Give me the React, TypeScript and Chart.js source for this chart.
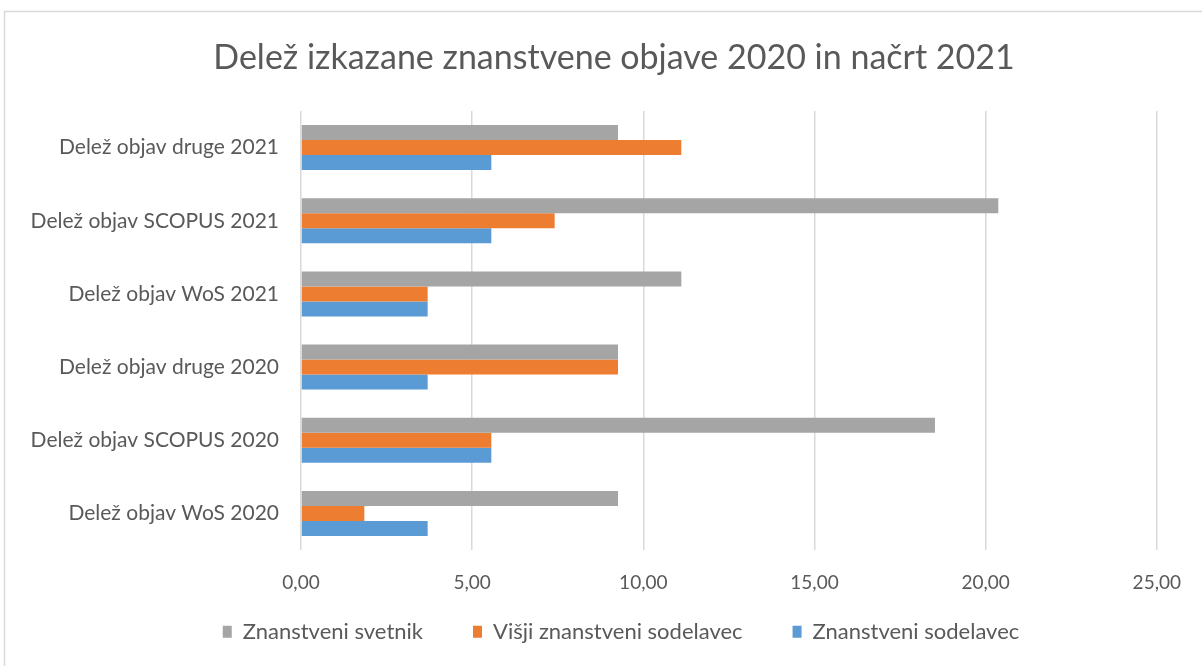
import React, { useEffect, useRef } from "react";
import { Chart, registerables } from "chart.js";

Chart.register(...registerables);

const categories = [
  "Delež objav WoS 2020",
  "Delež objav SCOPUS 2020",
  "Delež objav druge 2020",
  "Delež objav WoS 2021",
  "Delež objav SCOPUS 2021",
  "Delež objav druge 2021",
];
const svetnik = [9.26, 18.52, 9.26, 11.11, 20.37, 9.26];
const visjiSodelavec = [1.85, 5.56, 9.26, 3.7, 7.41, 11.11];
const sodelavec = [3.7, 5.56, 3.7, 3.7, 5.56, 5.56];
const seriesNames = ["Znanstveni svetnik", "Višji znanstveni sodelavec", "Znanstveni sodelavec"];
const title = "Delež izkazane znanstvene objave 2020 in načrt 2021";
const xTicks = [0, 5, 10, 15, 20, 25];

const FONT = "Lato, 'Open Sans', sans-serif";
const TEXT = "#595959";

const LEGEND_PAD = 50;
const LEGEND_FONT = 22;

const borderPlugin = {
  id: "outerBorder",
  beforeDraw(chart: any) {
    const ctx = chart.ctx;
    ctx.save();
    ctx.fillStyle = "#ffffff";
    ctx.fillRect(0, 0, chart.width, chart.height);
    ctx.strokeStyle = "#d9d9d9";
    ctx.lineWidth = 1.5;
    ctx.strokeRect(4.5, 11.5, chart.width + 20, chart.height + 20);
    ctx.restore();
  },
};

// The reference chart frame is wider than the visible picture, so its title and
// legend are centred a little right of the canvas centre; this also keeps the
// legend's wide horizontal item spacing without a tall legend box.
const layoutTweakPlugin = {
  id: "layoutTweak",
  beforeLayout(chart: any) {
    const lg = chart.legend;
    if (lg && !lg.__patched) {
      const orig = lg.fit;
      lg.fit = function () {
        orig.call(this);
        this.height = 56;
      };
      lg.__patched = true;
    }
  },
  afterLayout(chart: any) {
    const lg = chart.legend;
    if (lg) {
      lg.top = 634 - LEGEND_PAD - (LEGEND_FONT * 1.2) / 2;
      lg.bottom = chart.height;
      lg.height = lg.bottom - lg.top;
      lg.left += 36;
      lg.right += 36;
    }
    const tb = chart.titleBlock;
    if (tb) {
      tb.left += 29;
      tb.right += 29;
    }
  },
};

export default function App() {
  const ref = useRef<HTMLCanvasElement | null>(null);
  useEffect(() => {
    if (!ref.current) return;
    const chart = new Chart(ref.current, {
      type: "bar",
      data: {
        labels: categories,
        datasets: [
          { label: seriesNames[0], data: svetnik, backgroundColor: "#A5A5A5", borderWidth: 0 },
          { label: seriesNames[1], data: visjiSodelavec, backgroundColor: "#ED7D31", borderWidth: 0 },
          { label: seriesNames[2], data: sodelavec, backgroundColor: "#5B9BD5", borderWidth: 0 },
        ],
      },
      options: {
        indexAxis: "y",
        animation: false,
        responsive: false,
        maintainAspectRatio: false,
        layout: { padding: { left: 10, right: 42, top: 20, bottom: 10 } },
        datasets: { bar: { categoryPercentage: 0.615, barPercentage: 1 } },
        scales: {
          x: {
            min: 0,
            max: 25,
            afterBuildTicks: (axis: any) => {
              axis.ticks = xTicks.map((v) => ({ value: v }));
            },
            grid: { color: "#d9d9d9", lineWidth: 1.5, drawTicks: false },
            border: { display: false },
            ticks: {
              color: TEXT,
              font: { family: FONT, size: 19 },
              padding: 21,
              callback: (v: any) => Number(v).toFixed(2).replace(".", ","),
            },
            afterFit: (axis: any) => {
              axis.height = 50;
            },
          },
          y: {
            reverse: true,
            grid: { display: false, drawTicks: false },
            border: { display: false },
            ticks: { color: TEXT, font: { family: FONT, size: 21 }, padding: 22 },
            afterFit: (axis: any) => {
              axis.width = 291;
            },
          },
        },
        plugins: {
          title: {
            display: true,
            text: title,
            color: TEXT,
            font: { family: FONT, size: 34, weight: "normal" },
            padding: { top: 17.6, bottom: 32.6 },
          },
          legend: {
            position: "bottom",
            labels: {
              color: TEXT,
              font: { family: FONT, size: LEGEND_FONT },
              boxWidth: 9,
              boxHeight: 12,
              padding: LEGEND_PAD,
            },
          },
          tooltip: { enabled: false },
        },
      },
      plugins: [borderPlugin, layoutTweakPlugin],
    });
    return () => chart.destroy();
  }, []);
  return (
    <div style={{ position: "fixed", left: 0, top: 0, width: 1202, height: 666 }}>
      <canvas ref={ref} width={1202} height={666} style={{ width: 1202, height: 666 }} />
    </div>
  );
}
